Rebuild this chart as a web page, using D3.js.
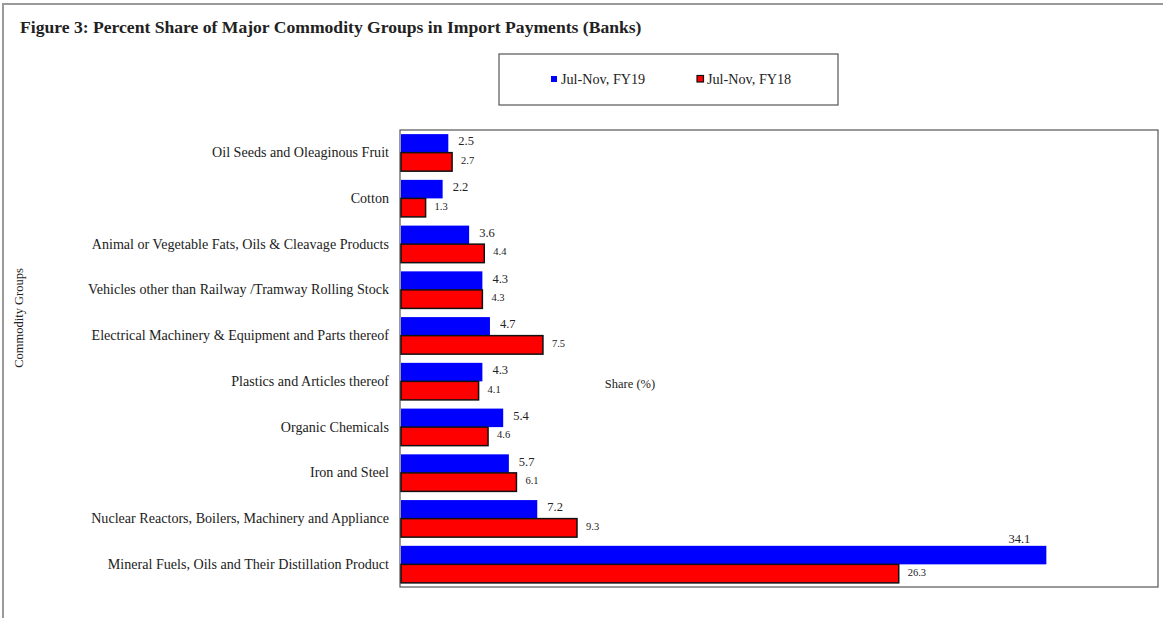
<!DOCTYPE html>
<html lang="en">
<head>
  <meta charset="utf-8">
  <title>Figure 3</title>
  <script src="https://d3js.org/d3.v7.min.js"></script>
  <style>
    body { margin: 0; background: #fff; }
    text { font-family: "Liberation Serif", "Times New Roman", serif; fill: #222; }
  </style>
</head>
<body>
<script>
  // data
  var categories = [
    "Oil Seeds and Oleaginous Fruit",
    "Cotton",
    "Animal or Vegetable Fats, Oils & Cleavage Products",
    "Vehicles other than Railway /Tramway Rolling Stock",
    "Electrical Machinery & Equipment and Parts thereof",
    "Plastics and Articles thereof",
    "Organic Chemicals",
    "Iron and Steel",
    "Nuclear Reactors, Boilers, Machinery and Appliance",
    "Mineral Fuels, Oils and Their Distillation Product"
  ];
  var fy19 = [2.5, 2.2, 3.6, 4.3, 4.7, 4.3, 5.4, 5.7, 7.2, 34.1];
  var fy18 = [2.7, 1.3, 4.4, 4.3, 7.5, 4.1, 4.6, 6.1, 9.3, 26.3];
  var seriesNames = ["Jul-Nov, FY19", "Jul-Nov, FY18"];

  var W = 1163, H = 618;
  var plot = {left: 400, top: 130, right: 1158, bottom: 587};

  var svg = d3.select("body").append("svg")
    .attr("width", W).attr("height", H);

  // outer frame
  svg.append("rect")
    .attr("x", 3).attr("y", 4).attr("width", W + 10).attr("height", H + 10)
    .attr("fill", "none").attr("stroke", "#9a9a9a").attr("stroke-width", 2);

  svg.append("text")
    .attr("x", 20).attr("y", 33)
    .style("font-size", "17.6px").style("font-weight", "bold")
    .text("Figure 3: Percent Share of Major Commodity Groups in Import  Payments (Banks)");

  var x = d3.scaleLinear().domain([0, 40]).range([plot.left + 1, plot.right]);
  var y = d3.scaleBand().domain(categories).range([plot.top, plot.bottom]).paddingInner(0.19).paddingOuter(0.09);

  var rows = categories.map(function(c, i) { return {cat: c, a: fy19[i], b: fy18[i]}; });

  // plot box
  svg.append("rect")
    .attr("x", plot.left).attr("y", plot.top)
    .attr("width", plot.right - plot.left).attr("height", plot.bottom - plot.top)
    .attr("fill", "none").attr("stroke", "#555").attr("stroke-width", 1.2);

  var half = y.bandwidth() / 2;

  var g = svg.selectAll("g.row").data(rows).enter().append("g")
    .attr("class", "row")
    .attr("transform", function(d) { return "translate(0," + y(d.cat) + ")"; });

  g.append("rect")
    .attr("x", x(0)).attr("y", 0)
    .attr("width", function(d) { return x(d.a) - x(0); })
    .attr("height", half)
    .attr("fill", "#0000ff");

  g.append("rect")
    .attr("x", x(0)).attr("y", half)
    .attr("width", function(d) { return x(d.b) - x(0); })
    .attr("height", half)
    .attr("fill", "#ff0000").attr("stroke", "#111").attr("stroke-width", 1.5);

  // value labels
  g.append("text")
    .attr("x", function(d) { return d.a > 30 ? x(d.a) - 16 : x(d.a) + 10; })
    .attr("y", function(d) { return d.a > 30 ? -3 : half / 2 + 2; })
    .attr("text-anchor", function(d) { return d.a > 30 ? "end" : "start"; })
    .style("font-size", "12.5px")
    .text(function(d) { return d.a.toFixed(1); });

  g.append("text")
    .attr("x", function(d) { return x(d.b) + 9; })
    .attr("y", half + half / 2 + 2)
    .style("font-size", "10.5px")
    .text(function(d) { return d.b.toFixed(1); });

  // category labels
  svg.append("g").selectAll("text").data(categories).enter().append("text")
    .attr("x", 389)
    .attr("y", function(d) { return y(d) + half + 4.5; })
    .attr("text-anchor", "end")
    .style("font-size", "14.1px")
    .text(function(d) { return d; });

  // axis titles
  svg.append("text")
    .attr("transform", "translate(23,318) rotate(-90)")
    .attr("text-anchor", "middle")
    .style("font-size", "12.5px")
    .text("Commodity Groups");

  svg.append("text")
    .attr("x", 630).attr("y", 388)
    .attr("text-anchor", "middle")
    .style("font-size", "12.5px")
    .text("Share (%)");

  // legend
  var lg = svg.append("g");
  lg.append("rect")
    .attr("x", 499).attr("y", 54).attr("width", 339).attr("height", 51)
    .attr("fill", "#fff").attr("stroke", "#555").attr("stroke-width", 1.2);
  var legendX = [551, 697];
  seriesNames.forEach(function(s, i) {
    lg.append("rect")
      .attr("x", legendX[i]).attr("y", i === 0 ? 76 : 75.5)
      .attr("width", i === 0 ? 6 : 6.5).attr("height", i === 0 ? 6 : 6.5)
      .attr("fill", i === 0 ? "#0000ff" : "#ff0000")
      .attr("stroke", i === 0 ? "none" : "#111").attr("stroke-width", 1.2);
    lg.append("text")
      .attr("x", legendX[i] + 10).attr("y", 84)
      .style("font-size", "14.2px")
      .text(s);
  });
</script>
</body>
</html>
